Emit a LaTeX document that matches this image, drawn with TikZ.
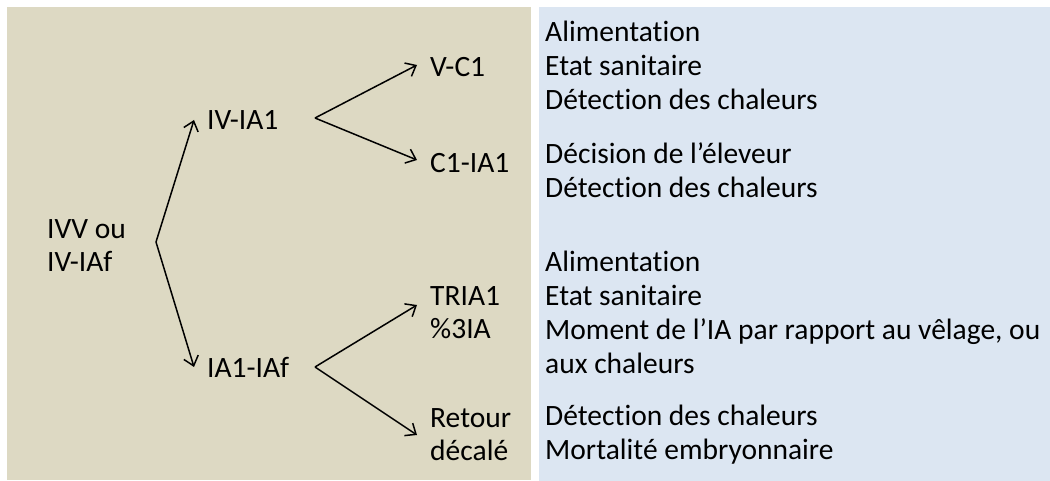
\documentclass[tikz,border=0pt]{standalone}
\usepackage{fontspec}
\setmainfont{Carlito}[Ligatures={NoCommon}]
\usepackage{tikz}
\usetikzlibrary{positioning,calc,arrows.meta}
\definecolor{beigebg}{HTML}{DDD9C3}
\definecolor{bluebg}{HTML}{DCE6F2}
\tikzstyle{label} = [inner xsep=13pt, inner ysep=0pt, align=left, font=\fontsize{29.5}{33}\selectfont]
\tikzstyle{facteurs} = [inner sep=0pt, align=left, anchor=west, font=\fontsize{29.5}{34}\selectfont]
\tikzstyle{branche} = [->, line width=1.5pt]

\begin{document}
\begin{tikzpicture}[x=1pt, y=-1pt, >={Straight Barb[length=9pt,width=15pt]}]
    \useasboundingbox (0,0) rectangle (1050,481);
    \fill[beigebg] (7,7) rectangle (531,480);
    \fill[bluebg] (539,7) rectangle (1050,481);

    % arbre des intervalles
    \node[label, anchor=west] (ivv) at (34,246) {IVV ou\\IV-IAf};
    \node[label, anchor=west] (ivia) at (194,120) {IV-IA1};
    \node[label, anchor=west] (iaiaf) at (194,367) {IA1-IAf};
    \node[label, anchor=west] (vc) at (417,67) {V-C1};
    \node[label, anchor=west] (cia) at (417,163) {C1-IA1};
    \node[label, anchor=west] (tria) at (417,313) {TRIA1\\\%3IA};
    \node[label, anchor=west] (retour) at (417,435) {Retour\\décalé};

    \coordinate (split0) at (156,242);
    \coordinate (split1) at (315,118);
    \coordinate (split2) at (315,367);

    \draw[branche] (split0) -- (ivia.west);
    \draw[branche] (split0) -- (iaiaf.west);
    \draw[branche] (split1) -- ([yshift=2pt]vc.west);
    \draw[branche] (split1) -- ([yshift=3pt]cia.west);
    \draw[branche] (split2) -- ([yshift=8pt]tria.west);
    \draw[branche] (split2) -- (retour.west);

    % facteurs de variation
    \node[facteurs] (f1) at (545,65) {Alimentation\\Etat sanitaire\\Détection des chaleurs};
    \node[facteurs] (f2) at (545,170) {Décision de l’éleveur\\Détection des chaleurs};
    \node[facteurs] (f3) at (545,312) {Alimentation\\Etat sanitaire\\Moment de l’IA par rapport au vêlage, ou\\aux chaleurs};
    \node[facteurs] (f4) at (545,435) {Détection des chaleurs\\Mortalité embryonnaire};
\end{tikzpicture}
\end{document}
